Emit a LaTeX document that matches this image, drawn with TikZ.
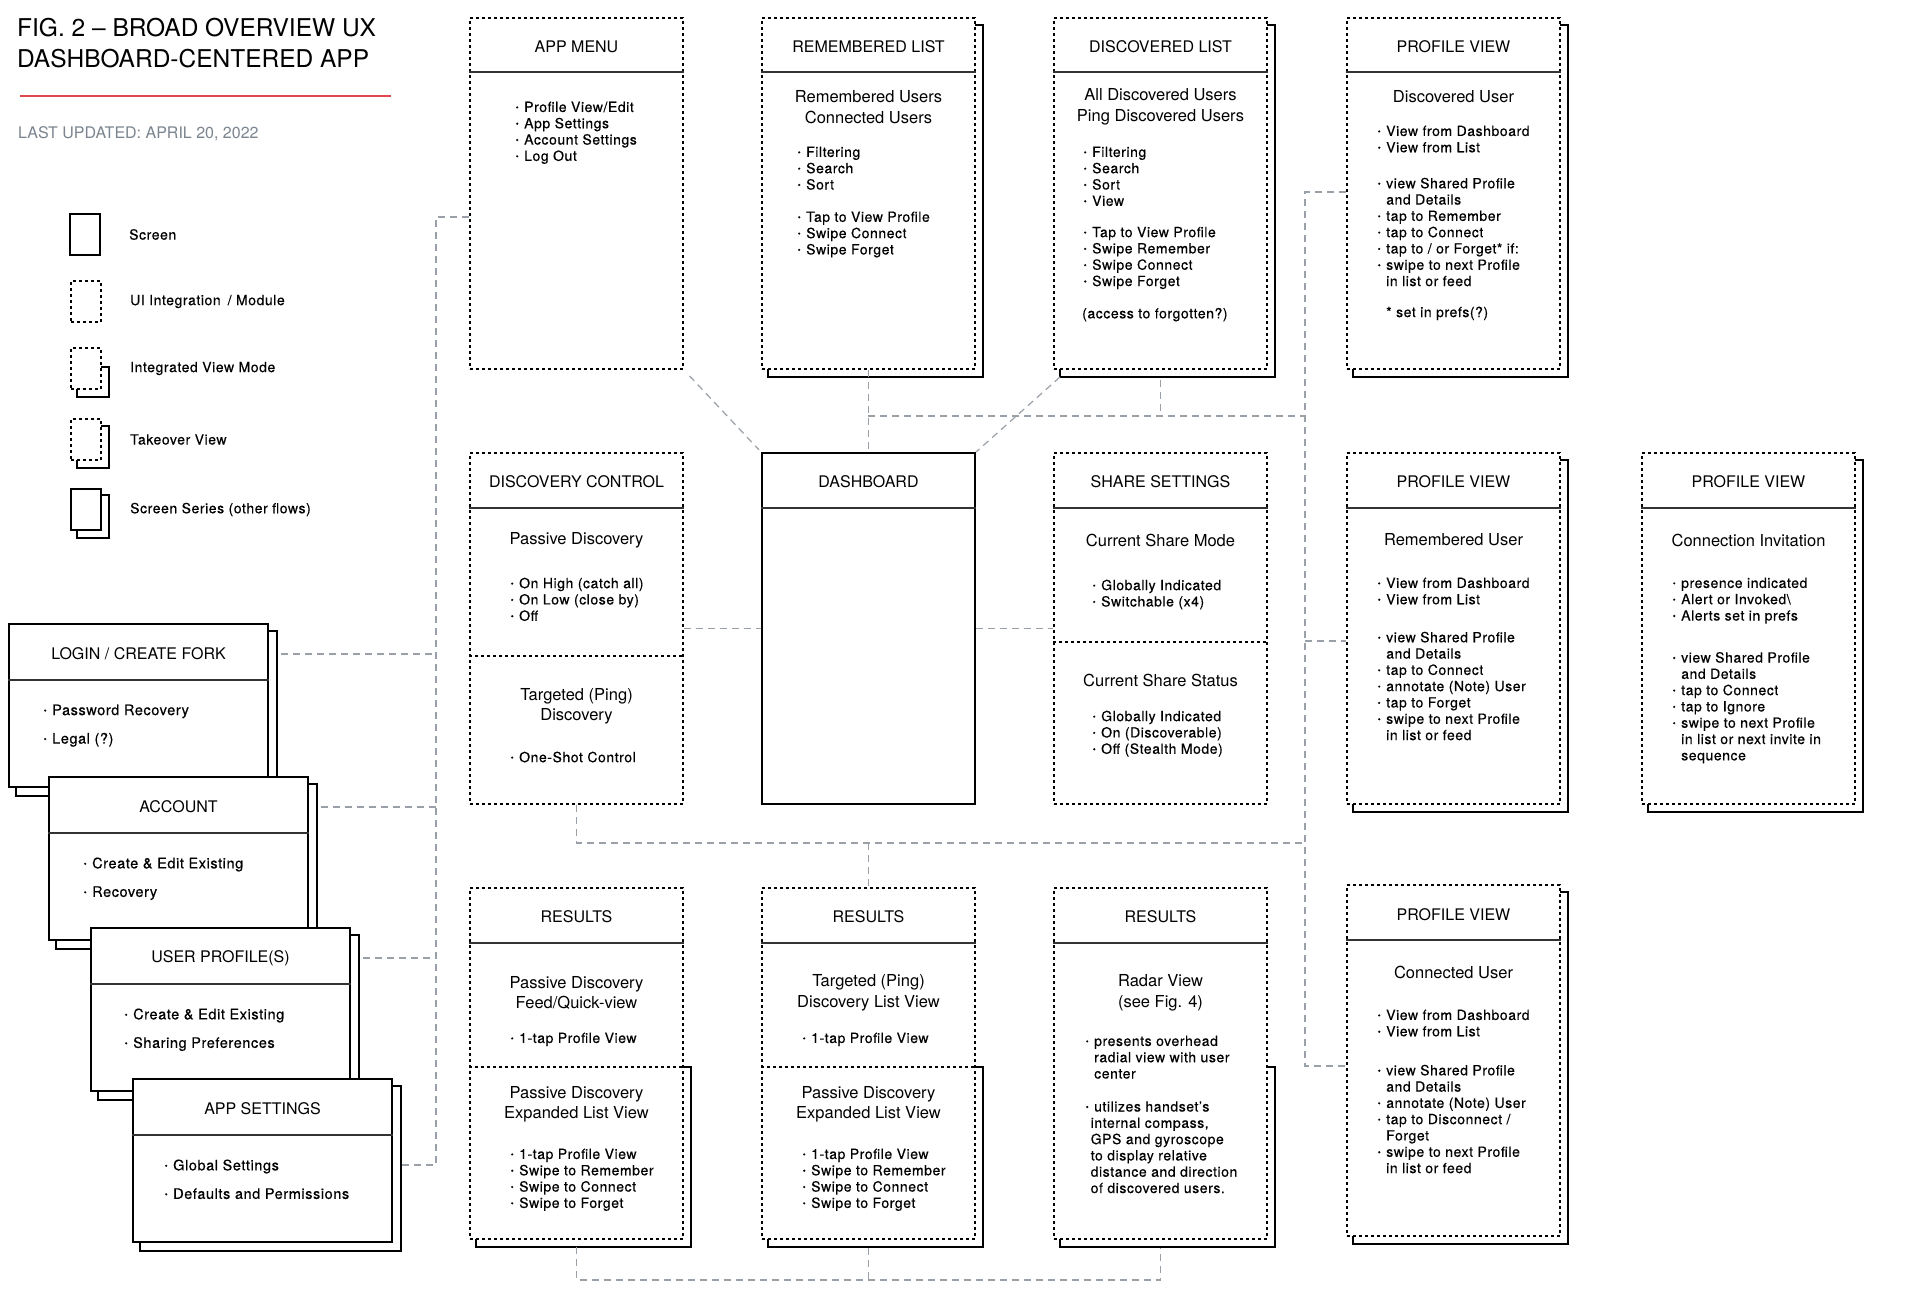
\documentclass[tikz,border=0pt]{standalone}
\usepackage{fontspec}
\setmainfont{TeX Gyre Heros}
\newfontfamily\trackedfont[LetterSpace=4,FakeBold=0.4]{TeX Gyre Heros}
\usetikzlibrary{calc,positioning,backgrounds}

\definecolor{linkgray}{HTML}{99A0A8}
\definecolor{rulered}{HTML}{E0474C}
\definecolor{dategray}{HTML}{7B858F}

\newcommand{\bodytext}{\trackedfont\fontsize{14}{16.3}\selectfont}
\newcommand{\stacktext}{\trackedfont\fontsize{14.5}{28.5}\selectfont}
\newcommand{\itemdot}{\makebox[8pt][l]{\hspace*{-0.5pt}\raisebox{1.6pt}{\fontsize{8.5}{8.5}\selectfont\textbullet}}}
\newcommand{\indentcont}{\hspace*{8pt}}

\begin{document}
\begin{tikzpicture}[x=1pt, y=-1pt,
  screen/.style={draw, line width=2pt, fill=white, inner sep=0pt, anchor=north west},
  module/.style={screen, dash pattern=on 3pt off 3pt},
  tall/.style={minimum width=213pt, minimum height=351pt},
  stackbox/.style={screen, minimum width=259pt, minimum height=163pt},
  legbox/.style={minimum width=30pt, minimum height=41pt},
  backline/.style={draw, line width=2pt, fill=white},
  divider/.style={line width=1.5pt, black!80},
  split/.style={line width=2pt, dash pattern=on 3pt off 3pt},
  link/.style={draw=linkgray, line width=1.2pt, dash pattern=on 7pt off 5pt},
  boxtitle/.style={font=\fontsize{16}{19}\selectfont, inner sep=0pt},
  subhead/.style={font=\fontsize{16.5}{20.5}\selectfont, align=center, inner sep=0pt},
  body/.style={font=\bodytext, align=left, anchor=north west, inner sep=0pt},
  stackbody/.style={font=\stacktext, align=left, anchor=north west, inner sep=0pt},
  leglabel/.style={font=\bodytext, inner sep=0pt, right=28pt of #1}]

\useasboundingbox (0,0) rectangle (1919,1312);
\begin{scope}[on background layer]
  \fill[white] (0,0) rectangle (1919,1312);
\end{scope}

% ---- Title block ----
\node[anchor=north west, align=left, inner sep=0pt, font=\fontsize{24.5}{30.5}\selectfont]
  (figtitle) at (17,18) {FIG. 2 \textendash{} BROAD OVERVIEW UX\\DASHBOARD-CENTERED APP};
\draw[rulered, line width=1.2pt] (20,96) -- (391,96);
\node[anchor=west, inner sep=0pt, text=dategray, font=\fontsize{16}{19}\selectfont]
  (updated) at (18,134) {LAST UPDATED: APRIL 20, 2022};

% ---- Legend ----
\node[screen, legbox] (legscreen) at (69,213) {};
\node[module, legbox] (legmodule) at (70,280) {};
\node[module, legbox] (legint) at (70,347) {};
\node[module, legbox] (legtake) at (70,418) {};
\node[screen, legbox] (legseries) at (70,488) {};
\node[leglabel=legscreen] (legscreen-txt) {Screen};
\node[leglabel=legmodule] (legmodule-txt) {UI Integration\enspace/ Module};
\node[leglabel=legint] (legint-txt) {Integrated View Mode};
\node[leglabel=legtake] (legtake-txt) {Takeover View};
\node[leglabel=legseries] (legseries-txt) {Screen Series (other flows)};

% ---- Left stack of screen series ----
\node[stackbox] (login) at (8,623) {};
\node[boxtitle] (login-title) at ($(login.north)+(0,31)$) {LOGIN / CREATE FORK};
\draw[divider] ($(login.north west)+(0,57)$) -- ($(login.north east)+(0,57)$);
\node[stackbody] (login-body) at (44,704.3) {\itemdot Password Recovery\\\itemdot Legal (?)};

\node[stackbox] (account) at (48,776) {};
\node[boxtitle] (account-title) at ($(account.north)+(0,31)$) {ACCOUNT};
\draw[divider] ($(account.north west)+(0,57)$) -- ($(account.north east)+(0,57)$);
\node[stackbody] (account-body) at (84,857.3) {\itemdot Create \& Edit Existing\\\itemdot Recovery};

\node[stackbox] (userprof) at (90,927) {};
\node[boxtitle] (userprof-title) at ($(userprof.north)+(0,31)$) {USER PROFILE(S)};
\draw[divider] ($(userprof.north west)+(0,57)$) -- ($(userprof.north east)+(0,57)$);
\node[stackbody] (userprof-body) at (125,1008.3) {\itemdot Create \& Edit Existing\\\itemdot Sharing Preferences};

\node[stackbox] (appsettings) at (132,1078) {};
\node[boxtitle] (appsettings-title) at ($(appsettings.north)+(0,31)$) {APP SETTINGS};
\draw[divider] ($(appsettings.north west)+(0,57)$) -- ($(appsettings.north east)+(0,57)$);
\node[stackbody] (appsettings-body) at (165,1159.3) {\itemdot Global Settings\\\itemdot Defaults and Permissions};

% ---- Top row ----
\node[module, tall] (appmenu) at (469,17) {};
\node[boxtitle] (appmenu-title) at ($(appmenu.north)+(0,30)$) {APP MENU};
\draw[divider] ($(appmenu.north west)+(0,55)$) -- ($(appmenu.north east)+(0,55)$);
\node[body] (appmenu-body) at (516,101.5)
  {\itemdot Profile View/Edit\\\itemdot App Settings\\\itemdot Account Settings\\\itemdot Log Out};

\node[module, tall] (remlist) at (761,17) {};
\node[boxtitle] (remlist-title) at ($(remlist.north)+(0,30)$) {REMEMBERED LIST};
\draw[divider] ($(remlist.north west)+(0,55)$) -- ($(remlist.north east)+(0,55)$);
\node[subhead] (remlist-head) at ($(remlist.north)+(0,90)$) {Remembered Users\\Connected Users};
\node[body] (remlist-body) at (798,146.5)
  {\itemdot Filtering\\\itemdot Search\\\itemdot Sort\\[16pt]\itemdot Tap to View Profile\\
   \itemdot Swipe Connect\\\itemdot Swipe Forget};

\node[module, tall] (disclist) at (1053,17) {};
\node[boxtitle] (disclist-title) at ($(disclist.north)+(0,30)$) {DISCOVERED LIST};
\draw[divider] ($(disclist.north west)+(0,55)$) -- ($(disclist.north east)+(0,55)$);
\node[subhead] (disclist-head) at ($(disclist.north)+(0,90)$) {All Discovered Users\\Ping Discovered Users};
\node[body] (disclist-body) at (1084,146.5)
  {\itemdot Filtering\\\itemdot Search\\\itemdot Sort\\\itemdot View\\[15pt]
   \itemdot Tap to View Profile\\\itemdot Swipe Remember\\\itemdot Swipe Connect\\\itemdot Swipe Forget\\[16pt]
   \hspace*{-2pt}(access to forgotten?)};

\node[module, tall] (profdisc) at (1346,17) {};
\node[boxtitle] (profdisc-title) at ($(profdisc.north)+(0,30)$) {PROFILE VIEW};
\draw[divider] ($(profdisc.north west)+(0,55)$) -- ($(profdisc.north east)+(0,55)$);
\node[subhead] (profdisc-head) at ($(profdisc.north)+(0,80)$) {Discovered User};
\node[body] (profdisc-body) at (1378,125.5)
  {\itemdot View from Dashboard\\\itemdot View from List\\[19.7pt]
   \itemdot view Shared Profile\\\indentcont and Details\\\itemdot tap to Remember\\\itemdot tap to Connect\\
   \itemdot tap to / or Forget* if:\\\itemdot swipe to next Profile\\\indentcont in list or feed\\[14.7pt]
   \indentcont * set in prefs(?)};

% ---- Middle row ----
\node[module, tall] (disccontrol) at (469,452) {};
\node[boxtitle] (disccontrol-title) at ($(disccontrol.north)+(0,30)$) {DISCOVERY CONTROL};
\draw[divider] ($(disccontrol.north west)+(0,56)$) -- ($(disccontrol.north east)+(0,56)$);
\node[subhead] (disccontrol-passive) at ($(disccontrol.north)+(0,88)$) {Passive Discovery};
\node[body] (disccontrol-body) at (511,577.5)
  {\itemdot On High (catch all)\\\itemdot On Low (close by)\\\itemdot Off};
\draw[split] ($(disccontrol.north west)+(0,204)$) -- ($(disccontrol.north east)+(0,204)$);
\node[subhead] (disccontrol-ping) at ($(disccontrol.north)+(0,254.5)$) {Targeted (Ping)\\Discovery};
\node[body] (disccontrol-shot) at (511,751.5) {\itemdot One-Shot Control};

\node[screen, tall] (dashboard) at (761,452) {};
\node[boxtitle] (dashboard-title) at ($(dashboard.north)+(0,30)$) {DASHBOARD};
\draw[divider] ($(dashboard.north west)+(0,56)$) -- ($(dashboard.north east)+(0,56)$);

\node[module, tall] (share) at (1053,452) {};
\node[boxtitle] (share-title) at ($(share.north)+(0,30)$) {SHARE SETTINGS};
\draw[divider] ($(share.north west)+(0,56)$) -- ($(share.north east)+(0,56)$);
\node[subhead] (share-mode) at ($(share.north)+(0,88)$) {Current Share Mode};
\node[body] (share-mode-body) at (1093,579.5) {\itemdot Globally Indicated\\\itemdot Switchable (x4)};
\draw[split] ($(share.north west)+(0,190)$) -- ($(share.north east)+(0,190)$);
\node[subhead] (share-status) at ($(share.north)+(0,228)$) {Current Share Status};
\node[body] (share-status-body) at (1093,710.5)
  {\itemdot Globally Indicated\\\itemdot On (Discoverable)\\\itemdot Off (Stealth Mode)};

\node[module, tall] (profrem) at (1346,452) {};
\node[boxtitle] (profrem-title) at ($(profrem.north)+(0,30)$) {PROFILE VIEW};
\draw[divider] ($(profrem.north west)+(0,56)$) -- ($(profrem.north east)+(0,56)$);
\node[subhead] (profrem-head) at ($(profrem.north)+(0,88)$) {Remembered User};
\node[body] (profrem-body) at (1378,577.5)
  {\itemdot View from Dashboard\\\itemdot View from List\\[21.7pt]
   \itemdot view Shared Profile\\\indentcont and Details\\\itemdot tap to Connect\\\itemdot annotate (Note) User\\
   \itemdot tap to Forget\\\itemdot swipe to next Profile\\\indentcont in list or feed};

\node[module, tall] (profinvite) at (1641,452) {};
\node[boxtitle] (profinvite-title) at ($(profinvite.north)+(0,30)$) {PROFILE VIEW};
\draw[divider] ($(profinvite.north west)+(0,56)$) -- ($(profinvite.north east)+(0,56)$);
\node[subhead] (profinvite-head) at ($(profinvite.north)+(0,88)$) {Connection Invitation};
\node[body] (profinvite-body) at (1673,577.5)
  {\itemdot presence indicated\\\itemdot Alert or Invoked\textbackslash\\\itemdot Alerts set in prefs\\[25.7pt]
   \itemdot view Shared Profile\\\indentcont and Details\\\itemdot tap to Connect\\\itemdot tap to Ignore\\
   \itemdot swipe to next Profile\\\indentcont in list or next invite in\\\indentcont sequence};

% ---- Bottom row ----
\node[module, tall] (respassive) at (469,887) {};
\node[boxtitle] (respassive-title) at ($(respassive.north)+(0,30)$) {RESULTS};
\draw[divider] ($(respassive.north west)+(0,56)$) -- ($(respassive.north east)+(0,56)$);
\node[subhead] (respassive-feed) at ($(respassive.north)+(0,106)$) {Passive Discovery\\Feed/Quick-view};
\node[body] (respassive-feed-body) at (511,1032.5) {\itemdot 1-tap Profile View};
\draw[split] ($(respassive.north west)+(0,180)$) -- ($(respassive.north east)+(0,180)$);
\node[subhead] (respassive-list) at ($(respassive.north)+(0,217.5)$) {Passive Discovery\\Expanded List View};
\node[body] (respassive-list-body) at (511,1148.5)
  {\itemdot 1-tap Profile View\\\itemdot Swipe to Remember\\\itemdot Swipe to Connect\\\itemdot Swipe to Forget};

\node[module, tall] (resping) at (761,887) {};
\node[boxtitle] (resping-title) at ($(resping.north)+(0,30)$) {RESULTS};
\draw[divider] ($(resping.north west)+(0,56)$) -- ($(resping.north east)+(0,56)$);
\node[subhead] (resping-ping) at ($(resping.north)+(0,106)$) {Targeted (Ping)\\Discovery List View};
\node[body] (resping-ping-body) at (803,1032.5) {\itemdot 1-tap Profile View};
\draw[split] ($(resping.north west)+(0,180)$) -- ($(resping.north east)+(0,180)$);
\node[subhead] (resping-list) at ($(resping.north)+(0,217.5)$) {Passive Discovery\\Expanded List View};
\node[body] (resping-list-body) at (803,1148.5)
  {\itemdot 1-tap Profile View\\\itemdot Swipe to Remember\\\itemdot Swipe to Connect\\\itemdot Swipe to Forget};

\node[module, tall] (resradar) at (1053,887) {};
\node[boxtitle] (resradar-title) at ($(resradar.north)+(0,30)$) {RESULTS};
\draw[divider] ($(resradar.north west)+(0,56)$) -- ($(resradar.north east)+(0,56)$);
\node[subhead] (resradar-head) at ($(resradar.north)+(0,106)$) {Radar View\\(see Fig. 4)};
\node[body] (resradar-body) at (1086,1035.5)
  {\itemdot presents overhead\\\indentcont radial view with user\\\indentcont center\\[16.7pt]
   \itemdot utilizes handset’s\\\hspace*{4.5pt}internal compass,\\\hspace*{4.5pt}GPS and gyroscope\\
   \hspace*{4.5pt}to display relative\\\hspace*{4.5pt}distance and direction\\\hspace*{4.5pt}of discovered users.};

\node[module, tall] (profconn) at (1346,884) {};
\node[boxtitle] (profconn-title) at ($(profconn.north)+(0,31)$) {PROFILE VIEW};
\draw[divider] ($(profconn.north west)+(0,56)$) -- ($(profconn.north east)+(0,56)$);
\node[subhead] (profconn-head) at ($(profconn.north)+(0,88)$) {Connected User};
\node[body] (profconn-body) at (1378,1009.5)
  {\itemdot View from Dashboard\\\itemdot View from List\\[22.7pt]
   \itemdot view Shared Profile\\\indentcont and Details\\\itemdot annotate (Note) User\\
   \itemdot tap to Disconnect /\\\indentcont Forget\\\itemdot swipe to next Profile\\\indentcont in list or feed};

% ---- Solid back edges (view modes, takeovers, series) ----
\begin{scope}[on background layer]
  \foreach \n in {remlist,disclist,profdisc,profrem,profinvite,profconn,legtake}
    \draw[backline] ($(\n.north west)+(7,8)$) rectangle ($(\n.south east)+(7,7)$);
  \foreach \n in {respassive,resping,resradar}
    \draw[backline] ($(\n.north west)+(7,180)$) rectangle ($(\n.south east)+(7,7)$);
  \foreach \n in {login,account,userprof,appsettings}
    \draw[backline] ($(\n.north west)+(8,8)$) rectangle ($(\n.south east)+(8,8)$);
  \draw[backline] ($(legint.north west)+(7,20)$) rectangle ($(legint.south east)+(7,7)$);
  \draw[backline] ($(legseries.north west)+(7,7)$) rectangle ($(legseries.south east)+(7,7)$);
\end{scope}

% ---- Connectors ----
\coordinate (lbtop) at (436,217);
\coordinate (lbbot) at (436,1165);
\coordinate (rbtop) at (1305,192);
\coordinate (rbmid) at (1305,641);
\coordinate (rbbot) at (1305,1066);
\coordinate (tbus) at (868,416);
\coordinate (resbus) at (575.5,843);
\coordinate (botbus) at (0,1280);

% left bus to menu and settings flows
\draw[link] (appmenu.west |- lbtop) -- (lbtop) -- (lbbot) -- ($(appsettings.east |- lbbot)+(8,0)$);
\foreach \n in {login,account,userprof}
  \draw[link] ($(\n.north east)+(12,31)$) coordinate (s) -- (s -| lbtop);

% dashboard hub
\draw[link, shorten <=8pt, shorten >=3pt] (appmenu.south east) -- (dashboard.north west);
\draw[link] (remlist.south) -- (dashboard.north);
\draw[link] ($(disclist.south west)+(7,7)$) -- (dashboard.north east);
\draw[link] (disccontrol.east) -- (dashboard.west);
\draw[link] (dashboard.east) -- (share.west);

% right bus to profile views
\draw[link] ($(disclist.south)+(0,10)$) -- (disclist.south |- tbus);
\draw[link] (tbus) -- (tbus -| rbtop);
\draw[link] (profdisc.west |- rbtop) -- (rbtop) -- (rbbot) -- (profconn.west |- rbbot);
\draw[link] (rbmid) -- (profrem.west |- rbmid);

% results
\draw[link] (disccontrol.south) -- (disccontrol.south |- resbus) -- (resbus -| rbtop);
\draw[link] (resping.north |- resbus) -- (resping.north);
\draw[link] ($(respassive.south)+(0,7)$) -- (respassive.south |- botbus)
  -- (resradar.south |- botbus) -- ($(resradar.south)+(0,8)$);
\draw[link] ($(resping.south)+(0,8)$) -- (resping.south |- botbus);

\end{tikzpicture}
\end{document}
